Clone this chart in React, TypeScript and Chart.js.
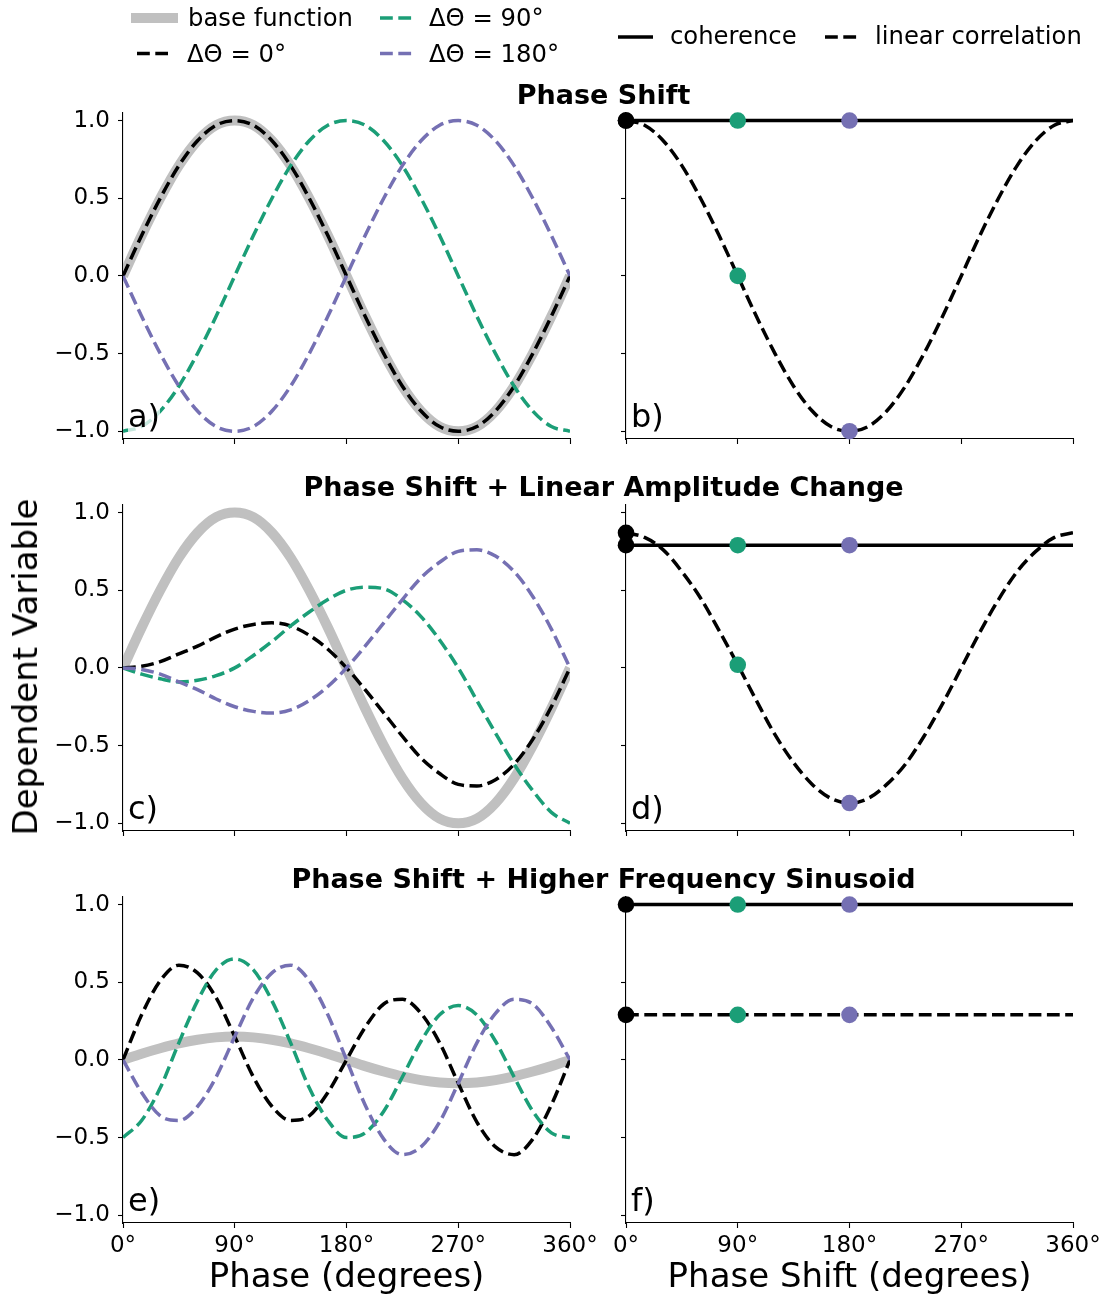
import React, { useEffect, useRef } from "react";
import { Chart, registerables } from "chart.js";

Chart.register(...registerables);

const FONT = "'DejaVu Sans', sans-serif";
const GREEN = "#1b9e77";
const PURPLE = "#7570b3";
const GRAY = "#c0c0c0";
const BLACK = "#000000";

// ---------- data ----------
const phaseDeg = [0, 15, 30, 45, 60, 75, 90, 105, 120, 135, 150, 165, 180, 195, 210, 225, 240, 255, 270, 285, 300, 315, 330, 345, 360];

// panel a) phase shift
const baseA = [0, 0.26, 0.5, 0.71, 0.87, 0.97, 1, 0.97, 0.87, 0.71, 0.5, 0.26, 0, -0.26, -0.5, -0.71, -0.87, -0.97, -1, -0.97, -0.87, -0.71, -0.5, -0.26, 0];
const shift0A = [0, 0.26, 0.5, 0.71, 0.87, 0.97, 1, 0.97, 0.87, 0.71, 0.5, 0.26, 0, -0.26, -0.5, -0.71, -0.87, -0.97, -1, -0.97, -0.87, -0.71, -0.5, -0.26, 0];
const shift90A = [-1, -0.97, -0.87, -0.71, -0.5, -0.26, 0, 0.26, 0.5, 0.71, 0.87, 0.97, 1, 0.97, 0.87, 0.71, 0.5, 0.26, 0, -0.26, -0.5, -0.71, -0.87, -0.97, -1];
const shift180A = [0, -0.26, -0.5, -0.71, -0.87, -0.97, -1, -0.97, -0.87, -0.71, -0.5, -0.26, 0, 0.26, 0.5, 0.71, 0.87, 0.97, 1, 0.97, 0.87, 0.71, 0.5, 0.26, 0];

// panel c) phase shift + linear amplitude change
const baseC = [0, 0.26, 0.5, 0.71, 0.87, 0.97, 1, 0.97, 0.87, 0.71, 0.5, 0.26, 0, -0.26, -0.5, -0.71, -0.87, -0.97, -1, -0.97, -0.87, -0.71, -0.5, -0.26, 0];
const shift0C = [0, 0.01, 0.04, 0.09, 0.14, 0.2, 0.25, 0.28, 0.29, 0.27, 0.21, 0.12, 0, -0.14, -0.29, -0.44, -0.58, -0.68, -0.75, -0.76, -0.72, -0.62, -0.46, -0.25, 0];
const shift90C = [0, -0.04, -0.07, -0.09, -0.08, -0.05, 0, 0.08, 0.17, 0.27, 0.36, 0.44, 0.5, 0.52, 0.51, 0.44, 0.33, 0.18, 0, -0.21, -0.42, -0.62, -0.79, -0.93, -1];
const shift180C = [0, -0.01, -0.04, -0.09, -0.14, -0.2, -0.25, -0.28, -0.29, -0.27, -0.21, -0.12, 0, 0.14, 0.29, 0.44, 0.58, 0.68, 0.75, 0.76, 0.72, 0.62, 0.46, 0.25, 0];

// panel e) phase shift + higher frequency sinusoid
const baseE = [0, 0.04, 0.075, 0.106, 0.13, 0.145, 0.15, 0.145, 0.13, 0.106, 0.075, 0.04, 0, -0.04, -0.075, -0.106, -0.13, -0.145, -0.15, -0.145, -0.13, -0.106, -0.075, -0.04, 0];
const shift0E = [0, 0.29, 0.51, 0.61, 0.56, 0.4, 0.15, -0.11, -0.3, -0.39, -0.36, -0.21, 0, 0.21, 0.36, 0.39, 0.3, 0.11, -0.15, -0.4, -0.56, -0.61, -0.51, -0.29, 0];
const shift90E = [-0.5, -0.39, -0.18, 0.11, 0.38, 0.58, 0.65, 0.58, 0.38, 0.11, -0.18, -0.39, -0.5, -0.47, -0.33, -0.11, 0.12, 0.29, 0.35, 0.29, 0.12, -0.11, -0.33, -0.47, -0.5];
const shift180E = [0, -0.21, -0.36, -0.39, -0.3, -0.11, 0.15, 0.4, 0.56, 0.61, 0.51, 0.29, 0, -0.29, -0.51, -0.61, -0.56, -0.4, -0.15, 0.11, 0.3, 0.39, 0.36, 0.21, 0];

// right panels: coherence and linear correlation vs phase shift
const shiftDeg = [0, 15, 30, 45, 60, 75, 90, 105, 120, 135, 150, 165, 180, 195, 210, 225, 240, 255, 270, 285, 300, 315, 330, 345, 360];
const corrB = [1, 0.97, 0.87, 0.71, 0.5, 0.26, 0, -0.26, -0.5, -0.71, -0.87, -0.97, -1, -0.97, -0.87, -0.71, -0.5, -0.26, 0, 0.26, 0.5, 0.71, 0.87, 0.97, 1];
const corrD = [0.87, 0.84, 0.76, 0.62, 0.45, 0.24, 0.02, -0.21, -0.43, -0.61, -0.75, -0.84, -0.87, -0.84, -0.75, -0.62, -0.44, -0.23, 0, 0.23, 0.44, 0.62, 0.75, 0.84, 0.87];
const lineEnds = [0, 360];
const cohB = [1, 1];
const cohD = [0.79, 0.79];
const cohF = [1, 1];
const corrF = [0.29, 0.29];

const markerShift = [0, 90, 180];
const markerColors = [BLACK, GREEN, PURPLE];
const cohMarkB = [1, 1, 1];
const corrMarkB = [1, 0, -1];
const cohMarkD = [0.79, 0.79, 0.79];
const corrMarkD = [0.87, 0.02, -0.87];
const cohMarkF = [1, 1, 1];
const corrMarkF = [0.29, 0.29, 0.29];

const xTickVals = [0, 90, 180, 270, 360];
const yTickVals = [-1, -0.5, 0, 0.5, 1];

// ---------- layout ----------
const COL_LEFT = [123, 626];
const ROW_TOP = [111, 503, 895];
const AREA_W = 447;
const AREA_H = 328;
const PAD_L = 90;
const PAD_T = 20;
const PAD_R = 40;
const PAD_B = 50;

const DASH = [12.8, 5.5];
const LW = 3.5;

const pts = (xs: number[], ys: number[]) => xs.map((x, i) => ({ x, y: ys[i] }));

const curve = (ys: number[], color: string, order: number, dashed = true) => ({
  data: pts(phaseDeg, ys),
  borderColor: color,
  borderWidth: LW,
  borderDash: dashed ? DASH : [],
  pointRadius: 0,
  fill: false,
  cubicInterpolationMode: "monotone",
  order,
});

const baseCurve = (ys: number[]) => ({
  data: pts(phaseDeg, ys),
  borderColor: GRAY,
  borderWidth: 10,
  pointRadius: 0,
  fill: false,
  cubicInterpolationMode: "monotone",
  order: 10,
});

const leftSets = (base: number[], s0: number[], s90: number[], s180: number[]) => [
  baseCurve(base),
  curve(s0, BLACK, 3),
  curve(s90, GREEN, 2),
  curve(s180, PURPLE, 1),
];

const markers = (ys: number[], order: number) => ({
  data: pts(markerShift, ys),
  showLine: false,
  pointRadius: 8.3,
  pointHoverRadius: 8.3,
  pointBorderWidth: 0,
  pointBackgroundColor: markerColors,
  pointBorderColor: markerColors,
  clip: false,
  order,
});

const rightSets = (
  cohX: number[], coh: number[], corrX: number[], corr: number[], cohM: number[], corrM: number[]
) => [
  { data: pts(cohX, coh), borderColor: BLACK, borderWidth: LW, pointRadius: 0, fill: false, order: 6 },
  { data: pts(corrX, corr), borderColor: BLACK, borderWidth: LW, borderDash: DASH, pointRadius: 0, fill: false, cubicInterpolationMode: "monotone", order: 5 },
  markers(corrM, 1),
  markers(cohM, 0),
];

const fmtY = (v: number) => {
  const s = Math.abs(v).toFixed(1);
  return v < 0 ? "\u2212" + s : s;
};

type PanelProps = { left: number; top: number; datasets: any[]; xLabels: boolean; yLabels: boolean };

function Panel({ left, top, datasets, xLabels, yLabels }: PanelProps) {
  const ref = useRef<HTMLCanvasElement | null>(null);
  const W = PAD_L + AREA_W + PAD_R;
  const H = PAD_T + AREA_H + PAD_B;
  useEffect(() => {
    if (!ref.current) return;
    const chart = new Chart(ref.current, {
      type: "line",
      data: { datasets },
      options: {
        responsive: false,
        animation: false,
        devicePixelRatio: 1,
        events: [],
        layout: { autoPadding: false, padding: { left: 0, top: PAD_T, right: PAD_R, bottom: 0 } },
        plugins: { legend: { display: false }, tooltip: { enabled: false }, title: { display: false } },
        scales: {
          x: {
            type: "linear",
            min: 0,
            max: 360,
            afterBuildTicks: (s: any) => {
              s.ticks = xTickVals.map((v) => ({ value: v }));
            },
            afterFit: (s: any) => {
              s.height = PAD_B;
            },
            ticks: {
              autoSkip: false,
              maxRotation: 0,
              minRotation: 0,
              padding: 4,
              color: "#000",
              font: { family: FONT, size: 23 },
              callback: (v: any) => (xLabels ? `${v}°` : ""),
            },
            grid: { display: true, drawOnChartArea: false, drawTicks: true, tickLength: 5, tickWidth: 1.1, tickColor: "#000", color: "#000" },
            border: { display: true, color: "#000", width: 1.1 },
          },
          y: {
            type: "linear",
            min: -1.05,
            max: 1.05,
            afterBuildTicks: (s: any) => {
              s.ticks = yTickVals.map((v) => ({ value: v }));
            },
            afterFit: (s: any) => {
              s.width = PAD_L;
            },
            ticks: {
              autoSkip: false,
              padding: 8,
              color: "#000",
              font: { family: FONT, size: 23 },
              callback: (v: any) => (yLabels ? fmtY(Number(v)) : ""),
            },
            grid: { display: true, drawOnChartArea: false, drawTicks: true, tickLength: 5, tickWidth: 1.1, tickColor: "#000", color: "#000" },
            border: { display: true, color: "#000", width: 1.1 },
          },
        },
      } as any,
    });
    return () => chart.destroy();
  }, []);
  return (
    <canvas
      ref={ref}
      width={W}
      height={H}
      style={{ position: "absolute", left: left - PAD_L, top: top - PAD_T, width: W, height: H }}
    />
  );
}

type TextProps = {
  x: number;
  baseline: number;
  size: number;
  bold?: boolean;
  align?: "left" | "center";
  bg?: boolean;
  children: React.ReactNode;
};

function Txt({ x, baseline, size, bold, align = "left", bg, children }: TextProps) {
  return (
    <div
      style={{
        position: "absolute",
        left: x,
        top: baseline - 0.846 * size,
        fontFamily: FONT,
        fontSize: size,
        fontWeight: bold ? "bold" : "normal",
        lineHeight: 1,
        whiteSpace: "nowrap",
        color: "#000",
        transform: align === "center" ? "translateX(-50%)" : undefined,
        background: bg ? "rgba(255,255,255,0.75)" : undefined,
      }}
    >
      {children}
    </div>
  );
}

const panelLetters = ["a)", "b)", "c)", "d)", "e)", "f)"];
const rowTitles = ["Phase Shift", "Phase Shift + Linear Amplitude Change", "Phase Shift + Higher Frequency Sinusoid"];

export default function App() {
  const panels = [
    { col: 0, row: 0, ds: leftSets(baseA, shift0A, shift90A, shift180A) },
    { col: 1, row: 0, ds: rightSets(lineEnds, cohB, shiftDeg, corrB, cohMarkB, corrMarkB) },
    { col: 0, row: 1, ds: leftSets(baseC, shift0C, shift90C, shift180C) },
    { col: 1, row: 1, ds: rightSets(lineEnds, cohD, shiftDeg, corrD, cohMarkD, corrMarkD) },
    { col: 0, row: 2, ds: leftSets(baseE, shift0E, shift90E, shift180E) },
    { col: 1, row: 2, ds: rightSets(lineEnds, cohF, lineEnds, corrF, cohMarkF, corrMarkF) },
  ];
  const dashStr = DASH.join(" ");
  return (
    <div style={{ position: "absolute", left: 0, top: 0, width: 1102, height: 1298, overflow: "hidden", background: "#fff" }}>
      {panels.map((p, i) => (
        <Panel
          key={i}
          left={COL_LEFT[p.col]}
          top={ROW_TOP[p.row]}
          datasets={p.ds}
          xLabels={p.row === 2}
          yLabels={p.col === 0}
        />
      ))}
      {panels.map((p, i) => (
        <Txt key={"l" + i} x={COL_LEFT[p.col] + 5} baseline={ROW_TOP[p.row] + AREA_H - 12} size={32} bg>
          {panelLetters[i]}
        </Txt>
      ))}
      {rowTitles.map((t, i) => (
        <Txt key={"t" + i} x={603.5} baseline={ROW_TOP[i] - 7} size={27} bold align="center">
          {t}
        </Txt>
      ))}
      <Txt x={346.5} baseline={1287} size={34} align="center">Phase (degrees)</Txt>
      <Txt x={849.5} baseline={1287} size={34} align="center">Phase Shift (degrees)</Txt>
      <div
        style={{
          position: "absolute",
          left: 25,
          top: 667,
          fontFamily: FONT,
          fontSize: 34,
          lineHeight: 1,
          whiteSpace: "nowrap",
          transform: "translate(-50%, -50%) rotate(-90deg)",
        }}
      >
        Dependent Variable
      </div>

      {/* legends */}
      <svg width={1102} height={80} style={{ position: "absolute", left: 0, top: 0 }}>
        <line x1={131} x2={178} y1={18} y2={18} stroke={GRAY} strokeWidth={10} />
        <line x1={137} x2={168} y1={53.5} y2={53.5} stroke={BLACK} strokeWidth={LW} strokeDasharray={dashStr} />
        <line x1={380} x2={412} y1={18} y2={18} stroke={GREEN} strokeWidth={LW} strokeDasharray={dashStr} />
        <line x1={380} x2={412} y1={53.5} y2={53.5} stroke={PURPLE} strokeWidth={LW} strokeDasharray={dashStr} />
        <line x1={618} x2={653} y1={37} y2={37} stroke={BLACK} strokeWidth={LW} />
        <line x1={825} x2={857} y1={37} y2={37} stroke={BLACK} strokeWidth={LW} strokeDasharray={dashStr} />
      </svg>
      <Txt x={188} baseline={27} size={24.3}>base function</Txt>
      <Txt x={187} baseline={63} size={24.3}>ΔΘ = 0°</Txt>
      <Txt x={429} baseline={27} size={24.3}>ΔΘ = 90°</Txt>
      <Txt x={429} baseline={63} size={24.3}>ΔΘ = 180°</Txt>
      <Txt x={670} baseline={45} size={24.3}>coherence</Txt>
      <Txt x={875} baseline={45} size={24.3}>linear correlation</Txt>
    </div>
  );
}
